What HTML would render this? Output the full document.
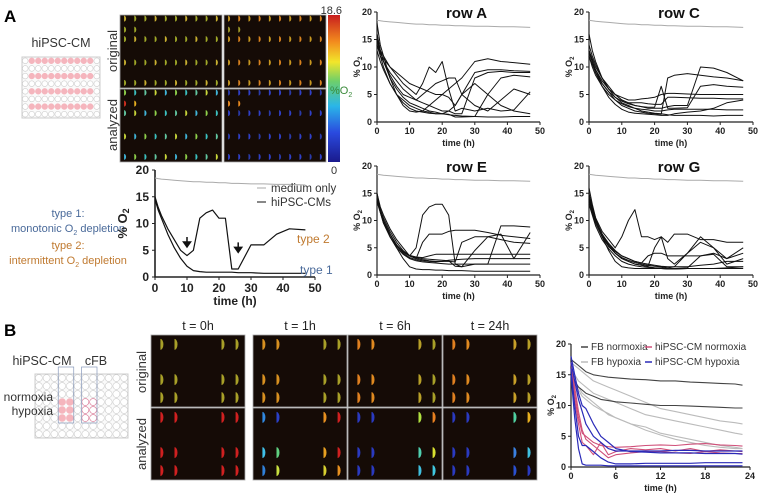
<!DOCTYPE html>
<html><head><meta charset="utf-8">
<style>
body{margin:0;background:#fff}
svg{display:block;font-family:"Liberation Sans",Arial,sans-serif}
.tk{font-size:9px;font-weight:bold;fill:#222}
.tkb{font-size:12px;font-weight:bold;fill:#222}
</style></head><body>
<svg id="fig" width="761" height="500" viewBox="0 0 761 500" xmlns="http://www.w3.org/2000/svg">
<defs>
<linearGradient id="jet" x1="0" y1="1" x2="0" y2="0">
<stop offset="0" stop-color="#1a1a8c"/><stop offset="0.2" stop-color="#2a4adf"/><stop offset="0.38" stop-color="#2ab6e8"/><stop offset="0.55" stop-color="#6ecf6a"/><stop offset="0.68" stop-color="#f2e62a"/><stop offset="0.82" stop-color="#f28a1e"/><stop offset="1" stop-color="#c81e1e"/>
</linearGradient>
</defs>
<text x="4" y="22" font-size="17" font-weight="bold">A</text>
<text x="61" y="47" font-size="12.5" text-anchor="middle" fill="#333">hiPSC-CM</text>
<g id="plateA"></g>
<text transform="translate(117,51) rotate(-90)" font-size="13" text-anchor="middle" fill="#333">original</text>
<text transform="translate(117,125) rotate(-90)" font-size="13" text-anchor="middle" fill="#333">analyzed</text>
<g id="imgsA"></g>
<rect x="328" y="15" width="12" height="147" fill="url(#jet)"/>
<text x="342" y="14" font-size="11" text-anchor="end" fill="#333">18.6</text>
<text x="334" y="174" font-size="11" text-anchor="middle" fill="#333">0</text>
<text x="330" y="94" font-size="11" fill="#3a8a3a">%O<tspan font-size="7" dy="3">2</tspan></text>
<text x="68" y="217" font-size="11" text-anchor="middle" fill="#4a6a9a">type 1:</text>
<text x="68" y="232" font-size="11" text-anchor="middle" fill="#4a6a9a">monotonic O<tspan font-size="7" dy="3">2</tspan><tspan dy="-3"> depletion</tspan></text>
<text x="68" y="249" font-size="11" text-anchor="middle" fill="#c07a30">type 2:</text>
<text x="68" y="264" font-size="11" text-anchor="middle" fill="#c07a30">intermittent O<tspan font-size="7" dy="3">2</tspan><tspan dy="-3"> depletion</tspan></text>
<g id="charts"></g>
<text x="4" y="336" font-size="17" font-weight="bold">B</text>
<text x="42" y="365" font-size="12.5" text-anchor="middle" fill="#333">hiPSC-CM</text>
<text x="96" y="365" font-size="12.5" text-anchor="middle" fill="#333">cFB</text>
<g id="plateB"></g>
<text x="53" y="401" font-size="12" text-anchor="end" fill="#333">normoxia</text>
<text x="53" y="415" font-size="12" text-anchor="end" fill="#333">hypoxia</text>
<text transform="translate(146,372) rotate(-90)" font-size="13" text-anchor="middle" fill="#333">original</text>
<text transform="translate(146,444) rotate(-90)" font-size="13" text-anchor="middle" fill="#333">analyzed</text>
<g id="imgsB"></g>
</svg>
<script>
// ---- chart data ----
const timeA=[0,1,2,4,6,8,10,12,14,16,18,20,22,24,26,30,34,38,42,47];
const medium=[18.5,18.4,18.3,18.2,18.1,18,17.9,17.8,17.8,17.7,17.7,17.6,17.6,17.5,17.5,17.4,17.4,17.3,17.3,17.2];
const rowA=[
[18,14,12,8,5,3,2,1.8,2,3,4,5,6,7,8,11,11.5,11,10.8,10.5],
[16,13,11,8,6,4.5,3.5,3,2.5,2,1.8,1.5,1.3,1.2,1.1,1,0.9,0.9,1,1],
[15,13,12,10,8.5,7,6,5,7,10,9,11,6,2,2.5,2,2.5,2,2.2,5.5],
[14,12.5,11.5,10,9,8,7,6.5,6,5.5,5,5,4.5,3,5,9,9.5,9.5,9.3,9.2],
[14,12,11,9,7.5,6,5,4,3.5,3,2.5,2,2,1.5,1.5,8,9,9.2,9,9],
[13,11,9.5,7,5,4,3,2.5,2,1.8,1.5,1.5,2,3,5,7,5,3,2,1.5],
[15,12,10,7,5,3.5,2.5,2,1.8,1.6,1.5,1.5,1.4,0.9,0.9,1,5,8,8.5,8.2],
[16,13,11,8.5,6.5,5,4.5,4,5,6,7,7.5,8,8,5,3,2,4,6,5]];
const rowC=[
[16,13,11,8,6,4.5,3.5,3,2.5,2,1.8,1.6,1.5,1.3,1.2,1.2,1.2,1.1,1.2,1.2],
[14,12,10.5,8,6.5,5,4.5,4,4,4.2,4.3,4.5,5,5.2,5.2,5.1,5,5,5,5],
[13,11.5,10,8,6,5,4,3.5,3.5,3.5,3.3,3.2,3.2,4.5,4.5,4.4,4.3,4.3,4.2,4.2],
[13,11,9.5,7,5.5,4,3,2.5,2,1.8,1.6,1.5,1.4,8,8.5,8.8,8.5,8.2,8,7.5],
[12.5,11,9.5,7.5,6,5,4,3.5,3,2.8,2.5,2.5,2.5,2.8,3,3,10,9.8,9,7.5],
[12,10.5,9,7,5.5,4.5,3.8,3.3,3,2.8,2.7,2.7,6.5,2.5,2.5,2.6,6.5,6.8,6.5,6.3],
[12,10,8.5,6.5,5,4,3.3,2.8,2.5,2.3,2.2,2,2,2.2,2.3,2.3,2.3,2.3,2.2,2.2],
[13,11,9,6.5,4.5,3.2,2.3,1.8,1.6,1.5,1.4,1.3,1.2,1.2,1.5,1.8,2,2.5,3.5,4]];
const rowE=[
[15,12,10,7,5,3,1.5,1.1,1,1,0.9,0.9,0.8,0.8,0.8,0.7,0.7,0.7,0.7,0.7],
[15,12.5,11,8.5,6.5,5,3.5,5,11,12.5,13,13,11,2,1.5,2,2,9,9,8.8],
[14,12,10.5,8,6,4.5,3.5,3,6,7.5,7.5,7.5,8,8.2,8.2,8.2,7.8,7.3,7,6.7],
[14,12,10,7.5,5.5,4.2,3.5,3,2.8,2.6,2.5,2.5,2.5,2.4,6,7,7,6.5,6,5.8],
[14,12,10,7.5,5.5,4.3,3.6,3.3,3.2,3.5,3.8,3.8,3.8,3.8,3.8,3.8,3.8,3.8,3.8,3.8],
[13.5,11.5,9.5,7,5.3,4,3.2,2.8,2.6,2.5,2.4,2.5,2.7,2.8,2.9,3,3,3,3,3],
[13.5,11.5,9.5,7,5,3.8,3,2.6,2.4,2.3,2.2,2.1,2,2,2,2,2,2,2,2],
[14,12,10,7.5,5.5,4.2,3.5,3.2,3,2.9,2.8,2.7,2.6,1.6,1.5,4.5,7,7.5,3,7.8]];
const rowG=[
[16,13,10.5,7,4.5,2.5,1.5,1.3,1.2,1.2,1.2,1.2,1.2,1.1,1.1,1.2,1.2,1.2,1.2,1.2],
[15,12.5,10.5,8,6.5,5,7,10,12,7,7,6.5,7,3,2,4,6,5,3,5],
[14.5,12,10,7.5,5.5,4,3,2.5,2,1.8,1.6,5,7,6,7.5,7.5,6.5,6.5,6,6],
[14,12,10,7.5,5.8,4.5,3.5,3,2.5,2.2,3.5,4,4,3.5,3.5,3.5,3.5,4,3,4],
[14,11.5,9.5,7,5.2,4,3.2,2.7,2.3,2,1.8,1.6,1.5,1.3,1.5,4,7,5,2,3],
[13.5,11.5,9.5,7.2,5.5,4.3,3.5,3,2.5,2.2,2,1.8,1.6,1.5,1.5,1.5,1.8,2,2.5,2.5],
[13,11,9,6.5,4.8,3.5,2.5,2,1.7,1.5,1.4,1.3,1.3,1.2,1.2,1.3,3.5,3.8,1.5,1.5],
[14,12,10,7.5,5.5,4,3,2.5,2,1.8,1.5,1.3,1.2,1.1,1.1,1.2,1.2,1.2,1.3,1.5]];
const type1=[14.5,12.5,11,8,5.5,3.5,2,1.2,1,0.9,0.9,0.9,0.9,0.9,0.8,0.8,0.7,0.7,0.7,0.7];
const type2=[15,13,11.5,9,7,5,4,5,11,12,12.5,11,11,1.5,1.5,6,6,8,9,8.8];
const xTicksA=[0,10,20,30,40,50];
const yTicksA=[0,5,10,15,20];
const timeB=[0,0.5,1,1.5,2,3,4,5,6,8,10,12,14,16,18,20,22,23];
const fbNorm=[
[17.5,17,16.5,16,15.5,15,14.8,14.6,14.5,14.3,14.2,14,14,13.8,13.7,13.6,13.5,13.3],
[15,14,13,12.5,12,11.5,11,10.8,10.6,10.4,10.2,10,10,9.9,9.8,9.7,9.6,9.6]];
const fbHyp=[
[17,16.5,16,15.5,15,14,13.5,13,12.5,11.5,10.5,9.5,9,8.5,8,7.5,7.2,7],
[16,15,14,13.5,13,12,11.5,11,10.5,9.5,8.5,8,7.5,7,6.5,6,5.5,5.3],
[15,14,13,12,11.5,10.5,9.5,8.5,8,7,6.5,5.5,5,4.5,4,3.5,3.2,3],
[15,13.5,12.5,11.5,11,10,9.3,8.7,8,7,6,5.2,4.5,4,3.5,3.2,3,3]];
const cmNorm=[
[17,12,8,5.5,5,4,3.5,3.3,3.2,3.3,3.5,3.6,3.5,3.7,3.8,3.6,3.5,3.4],
[16,11,7,4,3.5,2,4,2,2.5,3,2.8,3,2.6,3,2.5,2.8,2.6,2.5],
[17,13,9,6,4.5,3.5,2.5,1.5,2,2.3,2.5,2.5,2.3,2.2,2.5,2.3,2.2,2.2]];
const cmHyp=[
[18,15,12,10,9.5,7,5,4,3,2.5,2.4,2.3,2.3,2.3,2.2,2.2,2.2,2.1],
[17,14,11,9,7,5,4,3,2.6,2.6,2.6,2.6,2.7,2.7,2.6,2.6,2.6,2.6],
[16,10,5,3.5,3.5,2.5,1.5,0.8,0.5,0.5,0.6,0.6,0.6,0.6,0.7,0.7,0.7,0.7],
[15,8,3,0.5,0.3,0.3,0.3,0.2,0.2,0.2,0.2,0.2,0.2,0.2,0.2,0.2,0.2,0.2]];
const xTicksB=[0,6,12,18,24];
const yTicksB=[0,5,10,15,20];

const NS='http://www.w3.org/2000/svg';
function mk(tag,attrs,parent){const e=document.createElementNS(NS,tag);for(const k in attrs)e.setAttribute(k,attrs[k]);parent.appendChild(e);return e;}
const root=document.getElementById('charts');

function chart(name,x0,x1,y0,y1,xmax,ymax,xt,yt,big,title){
  const g=mk('g',{},root);
  
  
  const sx=v=>x0+(x1-x0)*v/xmax, sy=v=>y0-(y0-y1)*v/ymax;
  const ax=mk('path',{d:`M${x0},${y1}V${y0}H${x1}`,stroke:'#222','stroke-width':big?1.6:1.2,fill:'none'},g);
  
  
  const cls=big?'tkb':'tk';
  xt.forEach(v=>{mk('line',{x1:sx(v),x2:sx(v),y1:y0,y2:y0+3,stroke:'#222'},g);
    const t=mk('text',{x:sx(v),y:y0+(big?15:12),'text-anchor':'middle',class:cls},g);t.textContent=v;
    
    });
  yt.forEach(v=>{mk('line',{x1:x0-3,x2:x0,y1:sy(v),y2:sy(v),stroke:'#222'},g);
    const t=mk('text',{x:x0-(big?6:5),y:sy(v)+(big?4:3),'text-anchor':'end',class:cls},g);t.textContent=v;
    
    });
  const xl=mk('text',{x:(x0+x1)/2,y:y0+(big?28:24),'text-anchor':'middle',class:cls},g);xl.textContent='time (h)';
  
  
  const yx=x0-(big?28:17), yy=(y0+y1)/2;
  const yl=mk('text',{transform:`translate(${yx},${yy}) rotate(-90)`,'text-anchor':'middle','font-size':big?13:9,'font-weight':'bold',fill:'#222'},g);
  yl.innerHTML='% O<tspan font-size="'+(big?9:6)+'" dy="2">2</tspan>';
  
  
  if(title){const tt=mk('text',{x:(x0+x1)/2+8,y:y1+6,'text-anchor':'middle','font-size':15,'font-weight':'bold',fill:'#111'},g);tt.textContent=title;
    
    }
  return {g,sx,sy};
}
function line(c,xs,ys,color,w,name){
  const d=ys.map((v,i)=>(i?'L':'M')+c.sx(xs[i]).toFixed(1)+','+c.sy(v).toFixed(1)).join('');
  const p=mk('path',{d,stroke:color,'stroke-width':w,fill:'none','stroke-linejoin':'round'},c.g);
  
  
}
const rows=[['row-a-chart',rowA,377,540,122,12,'row A'],['row-c-chart',rowC,589,753,122,12,'row C'],['row-e-chart',rowE,377,540,275,166,'row E'],['row-g-chart',rowG,589,753,275,166,'row G']];
rows.forEach(r=>{const c=chart(r[0],r[2],r[3],r[4],r[5],50,20,xTicksA,yTicksA,false,r[6]);
  line(c,timeA,medium,'#aaa',1,'medium-only-line');
  r[1].forEach(s=>line(c,timeA,s,'#111',1,'well-trace'));});

const cs=chart('example-chart',155,315,277,170,50,20,xTicksA,yTicksA,true,null);
line(cs,timeA,medium,'#aaa',1,'medium-only-line');
line(cs,timeA,type1,'#111',1.2,'type1-trace');
line(cs,timeA,type2,'#111',1.2,'type2-trace');
[[10,5.8],[26,4.8]].forEach(a=>{const x=cs.sx(a[0]),y=cs.sy(a[1]);
  const p=mk('path',{d:`M${x},${y-9}V${y-3}M${x-3.5},${y-4}L${x},${y+1}L${x+3.5},${y-4}Z`,stroke:'#111','stroke-width':1.5,fill:'#111'},cs.g);
  
  });
[['medium only','#aaa',192],['hiPSC-CMs','#111',206]].forEach(l=>{
  mk('line',{x1:257,x2:266,y1:l[2]-4,y2:l[2]-4,stroke:l[1]},cs.g);
  const t=mk('text',{x:271,y:l[2],'font-size':11.5,fill:'#333'},cs.g);t.textContent=l[0];
  
  });
let t2=mk('text',{x:297,y:243,'font-size':12,fill:'#c07a30'},cs.g);t2.textContent='type 2';


let t1=mk('text',{x:300,y:274,'font-size':12,fill:'#4a6a9a'},cs.g);t1.textContent='type 1';



const cb=chart('panel-b-chart',571,750,467,344,24,20,xTicksB,yTicksB,false,null);
fbHyp.forEach(s=>line(cb,timeB,s,'#bbb',1.1,'fb-hypoxia-trace'));
fbNorm.forEach(s=>line(cb,timeB,s,'#444',1.1,'fb-normoxia-trace'));
cmNorm.forEach(s=>line(cb,timeB,s,'#d0507a',1.1,'cm-normoxia-trace'));
cmHyp.forEach(s=>line(cb,timeB,s,'#2a2ab8',1.2,'cm-hypoxia-trace'));
[['FB normoxia','#444',591,350],['hiPSC-CM normoxia','#d0507a',655,350],['FB hypoxia','#bbb',591,365],['hiPSC-CM hypoxia','#2a2ab8',655,365]].forEach(l=>{
  mk('line',{x1:l[2]-10,x2:l[2]-3,y1:l[3]-3,y2:l[3]-3,stroke:l[1],'stroke-width':1.5},cb.g);
  const t=mk('text',{x:l[2],y:l[3],'font-size':10,fill:'#333'},cb.g);t.textContent=l[0];
  
  });

// ---- plates ----
function plate(id,x,y,w,h,fill,outline){const g=document.getElementById(id);
  mk('rect',{x,y,width:w,height:h,fill:'#fafafa',stroke:'#ccc'},g);
  const cw=w/12,ch=h/8,r=Math.min(cw,ch)/2-0.4;
  for(let i=0;i<8;i++)for(let j=0;j<12;j++){const f=fill(i,j),o=outline(i,j);
    mk('circle',{cx:x+cw*(j+0.5),cy:y+ch*(i+0.5),r,fill:f?'#f5b5bd':'#fff',stroke:o?'#d87090':(f?'#f5b5bd':'#ccc'),'stroke-width':0.6},g);}
  return {cw,ch};}
plate('plateA',22,57,78,61,(i,j)=>i%2==0&&j>=1&&j<=10,()=>false);
const pb=plate('plateB',35,374,93,64,(i,j)=>i>=3&&i<=5&&(j==3||j==4),(i,j)=>i>=3&&i<=5&&(j==6||j==7));
const gB=document.getElementById('plateB');
mk('rect',{x:35+pb.cw*3,y:367,width:pb.cw*2,height:56,fill:'none',stroke:'#8899bb','stroke-width':0.7},gB);
mk('rect',{x:35+pb.cw*6,y:367,width:pb.cw*2,height:56,fill:'none',stroke:'#8899bb','stroke-width':0.7},gB);

// ---- images ----
function block(gid,x,y,w,h,dots,name){const g=document.getElementById(gid);
  const r=mk('rect',{x,y,width:w,height:h,fill:'#150b06',stroke:'#aaa','stroke-width':0.8},g);
  
  
  dots.forEach(d=>{const cx=x+w*d[0],cy=y+h*d[1],rx=d[3],ry=d[4];
    mk('path',{d:`M${cx},${cy-ry}A${rx},${ry} 0 0 1 ${cx},${cy+ry}Z`,fill:d[2]},g);});}
const rowsY=[0.05,0.2,0.33,0.65,0.93];
function gridDots(cols){const out=[];rowsY.forEach((ry,ri)=>{for(let c=0;c<10;c++){if(ri==1&&c>1)continue;out.push([0.04+c*0.1,ry,cols(ri,c),2,3]);}});return out;}
const greens=['#8fd04a','#3cc0c0','#62c6a0','#c8d63a','#40b4d8'];
block('imgsA',120,15,102,73,gridDots((r,c)=>(c+r)%3==0?'#c8b030':'#a0a828'),'image-original-left');
block('imgsA',224,15,102,73,gridDots((r,c)=>r==1?'#a09a28':(c%2?'#d8821e':'#c89820')),'image-original-right');
block('imgsA',120,89,102,73,gridDots((r,c)=>r==1?(c==0?'#d03020':'#e8b020'):greens[(c+r)%5]),'image-analyzed-left');
block('imgsA',224,89,102,73,gridDots((r,c)=>r==1?'#e88a20':((c+r)%3?'#3040c8':'#2a3aa8')),'image-analyzed-right');
const bx=[[151,'0h'],[253,'1h'],[348,'6h'],[443,'24h']];
const bcols=[0.1,0.25,0.75,0.9], brows=[0.13,0.62,0.87];
const origC=[
[['#a8a028','#a8a028','#a8a028','#a8a028']],
[['#d89020','#d89020','#a8a028','#a8a028']],
[['#e08020','#e08a20','#b8a028','#a8a028']],
[['#e08020','#e08a20','#c8a028','#b8a028']]];
const anC=[
[['#d02020','#d02020','#d02020','#d02020'],['#d02020','#d02020','#d02020','#d02020'],['#d02020','#d02020','#d02020','#d02020']],
[['#3088e0','#2a40c8','#e89020','#d02020'],['#40c0e8','#60d080','#e8a020','#d02020'],['#3080d8','#c8e040','#d8d030','#e89020']],
[['#2a3ac0','#2a3ac0','#b0e040','#e88020'],['#2a3ac0','#2a3ac0','#50d0b0','#d8e030'],['#2a3ac0','#2a3ac0','#40c0e0','#40c8e0']],
[['#2a3ac0','#2a3ac0','#50d0a0','#e8b020'],['#2a3ac0','#2a3ac0','#3a80e0','#40c0e0'],['#2a3ac0','#2a3ac0','#2a50d0','#2a3ac0']]];
bx.forEach((b,k)=>{
  const t=mk('text',{x:b[0]+47,y:330,'text-anchor':'middle','font-size':12.5,fill:'#222'},document.getElementById('imgsB'));t.textContent='t = '+b[1];
  
  
  const od=[],ad=[];
  brows.forEach((ry,ri)=>bcols.forEach((cx,ci)=>{od.push([cx,ry,origC[k][0][ci],3,5.5]);ad.push([cx,ry,anC[k][ri][ci],3,5.5]);}));
  block('imgsB',b[0],335,94,72,od,'image-original-'+b[1]);
  block('imgsB',b[0],408,94,72,ad,'image-analyzed-'+b[1]);
});
</script>
</body></html>
